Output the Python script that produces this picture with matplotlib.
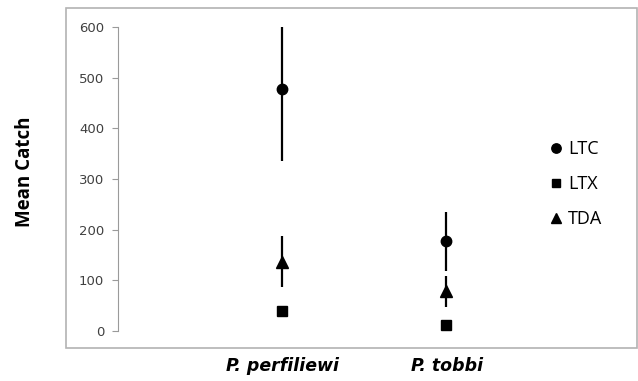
import numpy as np
import matplotlib.pyplot as plt
from matplotlib.patches import Rectangle
from matplotlib.lines import Line2D

plt.rcParams['font.family'] = ['Open Sans', 'DejaVu Sans']

species = ['P. perfiliewi', 'P. tobbi']
traps = ['LTC', 'LTX', 'TDA']
markers = ['o', 's', '^']
means = {
    'LTC': [477, 177],
    'LTX': [40, 12],
    'TDA': [137, 78],
}
errs = {
    'LTC': [142, 58],
    'LTX': [8, 4],
    'TDA': [50, 30],
}
msizes = {'o': 7.5, 's': 6.5, '^': 8}

fig = plt.figure(figsize=(6.38, 3.81), dpi=100)
W, H = 638, 381

# outer chart border
fig.patches.append(Rectangle((66 / W, (H - 348) / H), (637 - 66) / W, (348 - 8) / H,
                             transform=fig.transFigure, fill=False,
                             edgecolor='#b3b3b3', linewidth=1.2))

ax = fig.add_axes([118 / W, (H - 331) / H, (528 - 118) / W, 304 / H])
x = np.arange(1, len(species) + 1)

for t, m in zip(traps, markers):
    ax.errorbar(x, means[t], yerr=errs[t], fmt=m, color='black', ecolor='black',
                elinewidth=1.6, capsize=0, markersize=msizes[m])

ax.set_xlim(0, 2.5)
ax.set_ylim(0, 600)
ax.set_yticks(np.arange(0, 601, 100))
ax.set_xticks([])
for s in ['top', 'right', 'bottom']:
    ax.spines[s].set_visible(False)
ax.spines['left'].set_color('#9a9a9a')
ax.tick_params(axis='y', colors='#9a9a9a', length=4, pad=6, labelsize=9.5,
               labelcolor='#404040')
for lab in ax.get_yticklabels():
    lab.set_family('DejaVu Sans')

fig.text(25 / W, (H - 172) / H, 'Mean Catch', rotation=90, ha='center', va='center',
         fontsize=13.5, fontweight='bold')

for xi, name in zip(x, species):
    fig.text((118 + xi * 164.5) / W, (H - 366) / H, name, ha='center', va='center',
             fontsize=12.5, fontweight='bold', fontstyle='oblique', family='DejaVu Sans')

handles = [Line2D([], [], linestyle='none', marker=m, color='black',
                  markersize=msizes[m] * 0.9) for m in markers]
ax.legend(handles, traps, loc='center left', bbox_to_anchor=(531 / W, (H - 184) / H),
          bbox_transform=fig.transFigure, frameon=False,
          prop={'family': 'Open Sans', 'size': 13},
          handletextpad=0.15, labelspacing=0.95, handlelength=1.0)

fig.savefig('out.png', dpi=100)
